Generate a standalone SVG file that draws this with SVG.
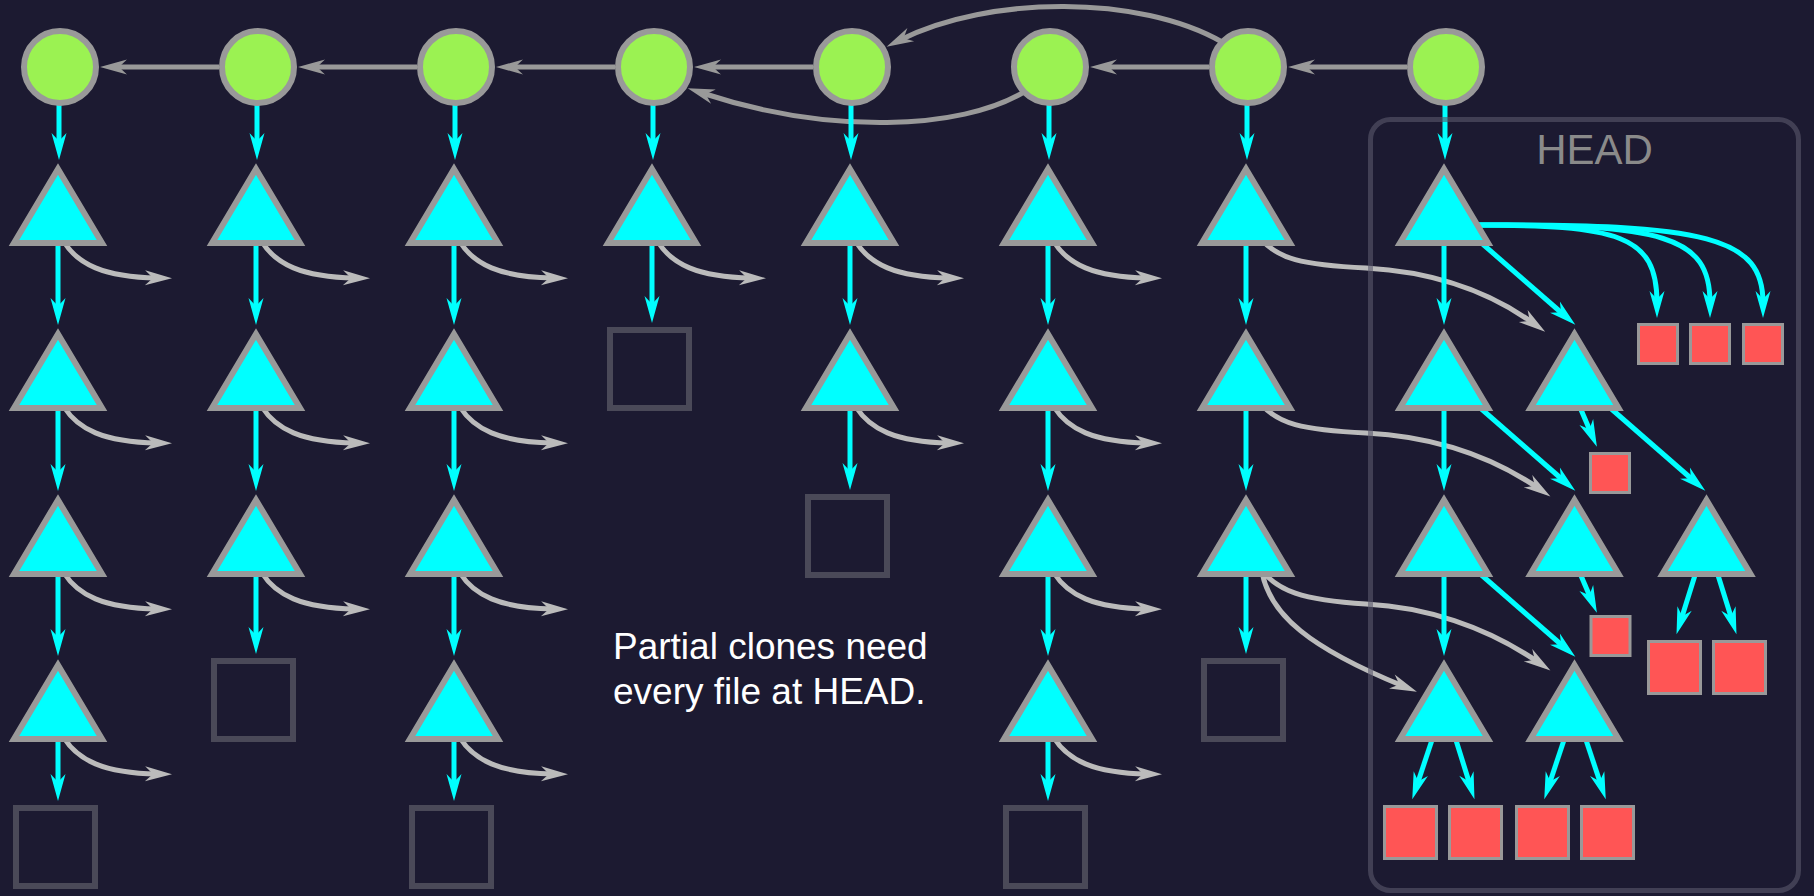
<svg xmlns="http://www.w3.org/2000/svg" width="1814" height="896" viewBox="0 0 1814 896">
<style>
.commit{fill:#9bf252;stroke:#999;stroke-width:6}
.tree{fill:#00ffff;stroke:#999;stroke-width:6;stroke-linejoin:miter}
.blank{fill:none;stroke:#4a4958;stroke-width:6}
.blob{fill:#ff5555;stroke:#999;stroke-width:3}
.h{fill:none;stroke:#999;stroke-width:5;marker-end:url(#mg)}
.g{fill:none;stroke:#bbb;stroke-width:5;marker-end:url(#ml)}
.c{fill:none;stroke:#00ffff;stroke-width:5;marker-end:url(#mc)}
.box{fill:none;stroke:#5a596c;stroke-opacity:0.6;stroke-width:5}
.lbl{font-family:"Liberation Sans",Arial,sans-serif}
</style>
<defs>
<marker id="mc" markerUnits="userSpaceOnUse" viewBox="-14 -9 30 18" markerWidth="30" markerHeight="18" refX="0" refY="0" orient="auto"><path d="M15,0 L-12,-7.5 L-4,0 L-12,7.5 Z" fill="#00ffff"/></marker>
<marker id="mg" markerUnits="userSpaceOnUse" viewBox="-14 -9 30 18" markerWidth="30" markerHeight="18" refX="0" refY="0" orient="auto"><path d="M15,0 L-12,-7.5 L-4,0 L-12,7.5 Z" fill="#999"/></marker>
<marker id="ml" markerUnits="userSpaceOnUse" viewBox="-14 -9 30 18" markerWidth="30" markerHeight="18" refX="0" refY="0" orient="auto"><path d="M15,0 L-12,-7.5 L-4,0 L-12,7.5 Z" fill="#bbb"/></marker>
</defs>
<rect width="1814" height="896" fill="#1c1a31"/>

<g id="connectors">
<g id="history">
<path class="h" d="M219 67H115"/>
<path class="h" d="M417 67H313"/>
<path class="h" d="M615 67H511"/>
<path class="h" d="M813 67H709"/>
<path class="h" d="M1209 67H1105"/>
<path class="h" d="M1407 67H1303"/>
<path class="h" d="M1222 42C1140 -5 990 -5 900 40"/>
<path class="h" d="M1024 92C960 130 830 135 702 93"/>
</g>
<g id="tree-links">
<path class="g" d="M64 242C78 264 103 277 157 278"/>
<path class="g" d="M64 407C78 429 103 442 157 443"/>
<path class="g" d="M64 573C78 595 103 608 157 609"/>
<path class="g" d="M64 738C78 760 103 773 157 774"/>
<path class="g" d="M262 242C276 264 301 277 355 278"/>
<path class="g" d="M262 407C276 429 301 442 355 443"/>
<path class="g" d="M262 573C276 595 301 608 355 609"/>
<path class="g" d="M460 242C474 264 499 277 553 278"/>
<path class="g" d="M460 407C474 429 499 442 553 443"/>
<path class="g" d="M460 573C474 595 499 608 553 609"/>
<path class="g" d="M460 738C474 760 499 773 553 774"/>
<path class="g" d="M658 242C672 264 697 277 751 278"/>
<path class="g" d="M856 242C870 264 895 277 949 278"/>
<path class="g" d="M856 407C870 429 895 442 949 443"/>
<path class="g" d="M1054 242C1068 264 1093 277 1147 278"/>
<path class="g" d="M1054 407C1068 429 1093 442 1147 443"/>
<path class="g" d="M1054 573C1068 595 1093 608 1147 609"/>
<path class="g" d="M1054 738C1068 760 1093 773 1147 774"/>
<path class="g" d="M1262 240C1278 258 1300 265 1366 268C1420 271 1480 285 1533 323"/>
<path class="g" d="M1262 405C1278 423 1300 430 1366 433C1425 436 1485 452 1538 488"/>
<path class="g" d="M1262 571C1278 590 1300 600 1366 604C1425 607 1485 626 1538 662"/>
<path class="g" d="M1262 572C1270 615 1310 648 1403 686"/>
</g>
<g id="contains">
<path class="c" d="M59 104V145"/><path class="c" d="M58 244V310"/><path class="c" d="M58 409V476"/><path class="c" d="M58 575V641"/><path class="c" d="M58 740V786"/>
<path class="c" d="M257 104V145"/><path class="c" d="M256 244V310"/><path class="c" d="M256 409V476"/><path class="c" d="M256 575V639"/>
<path class="c" d="M455 104V145"/><path class="c" d="M454 244V310"/><path class="c" d="M454 409V476"/><path class="c" d="M454 575V641"/><path class="c" d="M454 740V786"/>
<path class="c" d="M653 104V145"/><path class="c" d="M652 244V308"/>
<path class="c" d="M851 104V145"/><path class="c" d="M850 244V310"/><path class="c" d="M850 409V475"/>
<path class="c" d="M1049 104V145"/><path class="c" d="M1048 244V310"/><path class="c" d="M1048 409V476"/><path class="c" d="M1048 575V641"/><path class="c" d="M1048 740V786"/>
<path class="c" d="M1247 104V145"/><path class="c" d="M1246 244V310"/><path class="c" d="M1246 409V476"/><path class="c" d="M1246 575V639"/>
<path class="c" d="M1445 104V145"/><path class="c" d="M1444 244V310"/><path class="c" d="M1444 409V476"/><path class="c" d="M1444 575V641"/>
<path class="c" d="M1478 240L1564 315"/>
<path class="c" d="M1478 406L1564 481"/>
<path class="c" d="M1478 572L1564 647"/>
<path class="c" d="M1608 406L1694 481"/>
<path class="c" d="M1579 405L1591 433"/>
<path class="c" d="M1579 571L1591 599"/>
<path class="c" d="M1696 572L1681 620"/>
<path class="c" d="M1717 572L1732 620"/>
<path class="c" d="M1433 737L1417 785"/>
<path class="c" d="M1455 737L1470 785"/>
<path class="c" d="M1565 737L1549 785"/>
<path class="c" d="M1585 737L1601 785"/>
<path class="c" d="M1470 225C1620 225 1657 235 1657 303"/>
<path class="c" d="M1470 225C1665 224 1710 236 1710 303"/>
<path class="c" d="M1470 225C1710 223 1763 238 1763 303"/>
</g>
</g>

<g id="commits">
<g id="commit-1"><circle class="commit" cx="60" cy="67" r="36"/></g>
<g id="commit-2"><circle class="commit" cx="258" cy="67" r="36"/></g>
<g id="commit-3"><circle class="commit" cx="456" cy="67" r="36"/></g>
<g id="commit-4"><circle class="commit" cx="654" cy="67" r="36"/></g>
<g id="commit-5"><circle class="commit" cx="852" cy="67" r="36"/></g>
<g id="commit-6"><circle class="commit" cx="1050" cy="67" r="36"/></g>
<g id="commit-7"><circle class="commit" cx="1248" cy="67" r="36"/></g>
<g id="commit-8"><circle class="commit" cx="1446" cy="67" r="36"/></g>
</g>

<g id="trees">
<g id="t1-0"><polygon class="tree" points="58,169 14,243 102,243"/></g>
<g id="t1-1"><polygon class="tree" points="58,334 14,408 102,408"/></g>
<g id="t1-2"><polygon class="tree" points="58,500 14,574 102,574"/></g>
<g id="t1-3"><polygon class="tree" points="58,665 14,739 102,739"/></g>
<g id="t2-0"><polygon class="tree" points="256,169 212,243 300,243"/></g>
<g id="t2-1"><polygon class="tree" points="256,334 212,408 300,408"/></g>
<g id="t2-2"><polygon class="tree" points="256,500 212,574 300,574"/></g>
<g id="t3-0"><polygon class="tree" points="454,169 410,243 498,243"/></g>
<g id="t3-1"><polygon class="tree" points="454,334 410,408 498,408"/></g>
<g id="t3-2"><polygon class="tree" points="454,500 410,574 498,574"/></g>
<g id="t3-3"><polygon class="tree" points="454,665 410,739 498,739"/></g>
<g id="t4-0"><polygon class="tree" points="652,169 608,243 696,243"/></g>
<g id="t5-0"><polygon class="tree" points="850,169 806,243 894,243"/></g>
<g id="t5-1"><polygon class="tree" points="850,334 806,408 894,408"/></g>
<g id="t6-0"><polygon class="tree" points="1048,169 1004,243 1092,243"/></g>
<g id="t6-1"><polygon class="tree" points="1048,334 1004,408 1092,408"/></g>
<g id="t6-2"><polygon class="tree" points="1048,500 1004,574 1092,574"/></g>
<g id="t6-3"><polygon class="tree" points="1048,665 1004,739 1092,739"/></g>
<g id="t7-0"><polygon class="tree" points="1246,169 1202,243 1290,243"/></g>
<g id="t7-1"><polygon class="tree" points="1246,334 1202,408 1290,408"/></g>
<g id="t7-2"><polygon class="tree" points="1246,500 1202,574 1290,574"/></g>
<g id="t8-a0"><polygon class="tree" points="1444,169 1400,243 1488,243"/></g>
<g id="t8-a1"><polygon class="tree" points="1444,334 1400,408 1488,408"/></g>
<g id="t8-a2"><polygon class="tree" points="1444,500 1400,574 1488,574"/></g>
<g id="t8-a3"><polygon class="tree" points="1444,665 1400,739 1488,739"/></g>
<g id="t8-b1"><polygon class="tree" points="1574.5,334 1530.5,408 1618.5,408"/></g>
<g id="t8-b2"><polygon class="tree" points="1574.5,500 1530.5,574 1618.5,574"/></g>
<g id="t8-b3"><polygon class="tree" points="1574.5,665 1530.5,739 1618.5,739"/></g>
<g id="t8-c2"><polygon class="tree" points="1706.5,500 1662.5,574 1750.5,574"/></g>
</g>

<g id="missing-files">
<g id="m1"><rect class="blank" x="16" y="808" width="79" height="78"/></g>
<g id="m2"><rect class="blank" x="214" y="661" width="79" height="78"/></g>
<g id="m3"><rect class="blank" x="412" y="808" width="79" height="78"/></g>
<g id="m4"><rect class="blank" x="610" y="330" width="79" height="78"/></g>
<g id="m5"><rect class="blank" x="808" y="497" width="79" height="78"/></g>
<g id="m6"><rect class="blank" x="1006" y="808" width="79" height="78"/></g>
<g id="m7"><rect class="blank" x="1204" y="661" width="79" height="78"/></g>
</g>

<g id="head-files">
<g id="f1"><rect class="blob" x="1638.5" y="324.5" width="39" height="39"/></g>
<g id="f2"><rect class="blob" x="1690.5" y="324.5" width="39" height="39"/></g>
<g id="f3"><rect class="blob" x="1743.5" y="324.5" width="39" height="39"/></g>
<g id="f4"><rect class="blob" x="1590.5" y="453.5" width="39" height="39"/></g>
<g id="f5"><rect class="blob" x="1591" y="616.5" width="39" height="39"/></g>
<g id="f6"><rect class="blob" x="1648.5" y="641.5" width="52" height="52"/></g>
<g id="f7"><rect class="blob" x="1713.5" y="641.5" width="52" height="52"/></g>
<g id="f8"><rect class="blob" x="1384.5" y="806.5" width="52" height="52"/></g>
<g id="f9"><rect class="blob" x="1449.5" y="806.5" width="52" height="52"/></g>
<g id="f10"><rect class="blob" x="1516.5" y="806.5" width="52" height="52"/></g>
<g id="f11"><rect class="blob" x="1581.5" y="806.5" width="52" height="52"/></g>
</g>

<g id="head">
<rect class="box" x="1370.5" y="119.5" width="428" height="771" rx="20"/>
<text class="lbl" x="1594.5" y="164" font-size="42" fill="#8a8a8a" text-anchor="middle">HEAD</text>
</g>

<g id="caption">
<text class="lbl" x="613" y="659" font-size="37" fill="#ffffff">Partial clones need</text>
<text class="lbl" x="613" y="704" font-size="37" fill="#ffffff">every file at HEAD.</text>
</g>
</svg>
